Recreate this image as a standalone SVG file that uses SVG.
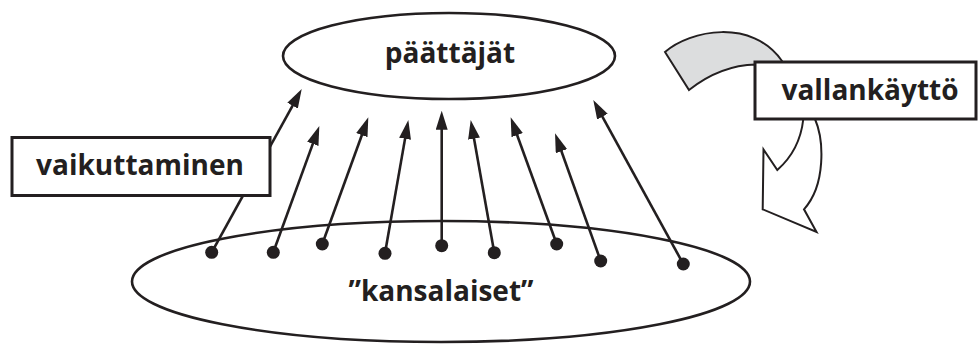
<svg xmlns="http://www.w3.org/2000/svg" width="978" height="345" viewBox="0 0 978 345">
  <style>
    .outline { fill: none; stroke: #231f20; stroke-width: 2.6; }
    .box { fill: #ffffff; stroke: #231f20; stroke-width: 3; }
    .label { font-family: "Open Sans", "Liberation Sans", sans-serif; font-weight: 700; font-size: 28px; fill: #231f20; text-anchor: middle; }
    .link { stroke: #231f20; stroke-width: 2.6; fill: none; marker-end: url(#head); }
    .dot { fill: #231f20; }
    .turn { stroke: #231f20; stroke-width: 2; stroke-linejoin: miter; }
  </style>
  <defs>
    <!-- filled arrowhead; tip sits 10px past the line end -->
    <marker id="head" markerUnits="userSpaceOnUse" viewBox="0 0 19 12" refX="9" refY="6" markerWidth="19" markerHeight="12" orient="auto">
      <path d="M0,0 L19,6 L0,12 Z" fill="#231f20"/>
    </marker>
  </defs>

  <rect width="978" height="345" fill="#ffffff"/>

  <!-- decision makers -->
  <g id="node-paattajat">
    <ellipse class="outline" cx="449" cy="56" rx="166" ry="43"/>
    <text class="label" x="450" y="63">päättäjät</text>
  </g>

  <!-- citizens -->
  <g id="node-kansalaiset">
    <ellipse class="outline" cx="441" cy="281.5" rx="309" ry="60.5"/>
    <text class="label" x="441" y="301">”kansalaiset”</text>
  </g>

  <!-- influence arrows from citizens up to decision makers -->
  <g id="connectors">
    <line class="link" x1="211.7" y1="252.3" x2="296.9" y2="97.8"/>
    <line class="link" x1="273.3" y1="252.3" x2="315.9" y2="135.4"/>
    <line class="link" x1="322.3" y1="244" x2="364.9" y2="126.7"/>
    <line class="link" x1="385" y1="253.3" x2="406.6" y2="129.9"/>
    <line class="link" x1="441.7" y1="245.7" x2="441.7" y2="120.7"/>
    <line class="link" x1="494.3" y1="252.7" x2="472.45" y2="129.8"/>
    <line class="link" x1="556.7" y1="244" x2="514.1" y2="126.7"/>
    <line class="link" x1="600.7" y1="261" x2="558.4" y2="142.7"/>
    <line class="link" x1="683.3" y1="264" x2="598.1" y2="108.8"/>
    <circle class="dot" cx="211.7" cy="252.3" r="6.5"/>
    <circle class="dot" cx="273.3" cy="252.3" r="6.5"/>
    <circle class="dot" cx="322.3" cy="244" r="6.5"/>
    <circle class="dot" cx="385" cy="253.3" r="6.5"/>
    <circle class="dot" cx="441.7" cy="245.7" r="6.5"/>
    <circle class="dot" cx="494.3" cy="252.7" r="6.5"/>
    <circle class="dot" cx="556.7" cy="244" r="6.5"/>
    <circle class="dot" cx="600.7" cy="261" r="6.5"/>
    <circle class="dot" cx="683.3" cy="264" r="6.5"/>
  </g>

  <!-- influence label -->
  <g id="label-vaikuttaminen">
    <rect class="box" x="12" y="137.5" width="258" height="58"/>
    <text class="label" x="140" y="175">vaikuttaminen</text>
  </g>

  <!-- use of power: bent arrow passing behind its label -->
  <g id="power-arrow">
    <path class="turn" fill="#dcddde" d="M665,52 C690,30 752,18 782,61 L786,70 L760,70 L756,64.5 C730,65 708,75 689,90 Z"/>
    <path class="turn" fill="#ffffff" d="M803.3,110 L803.3,119 C801,140 791,158 777.3,170 L763.5,149.5 L762.7,209.3 L816.5,232 L804,209.3 C826,185 824,140 815,119 L815,110 Z"/>
  </g>

  <g id="label-vallankaytto">
    <rect class="box" x="755" y="62" width="221" height="57"/>
    <text class="label" x="870" y="99.5">vallankäyttö</text>
  </g>
</svg>
